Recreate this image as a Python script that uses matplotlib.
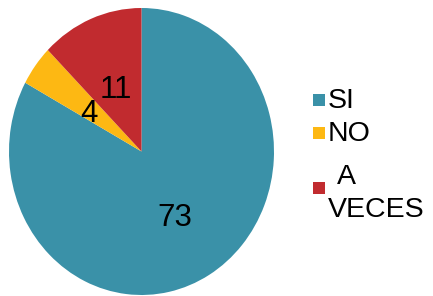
import matplotlib
matplotlib.use("Agg")
import matplotlib.pyplot as plt
from matplotlib.patches import Rectangle

plt.rcParams["font.family"] = ["Liberation Sans", "DejaVu Sans"]

categories = ["SI", "NO", "A VECES"]
values = [73, 4, 11]
colors = ["#3A91A8", "#FDB813", "#C12B2F"]

W, H = 433, 296
fig = plt.figure(figsize=(W / 100, H / 100), dpi=100)

# pie box in pixels (slightly taller than wide, like the original)
left, right, top, bottom = 9, 274, 8, 295
ax = fig.add_axes([left / W, (H - bottom) / H, (right - left) / W, (bottom - top) / H])
wedges, texts, autotexts = ax.pie(
    values,
    colors=colors,
    startangle=90,
    counterclock=False,
    autopct=lambda p: f"{p * sum(values) / 100:.0f}",
    pctdistance=0.5,
    textprops={"fontsize": 22.5, "color": "black"},
)
ax.set_aspect("auto")
ax.set_xlim(-1, 1)
ax.set_ylim(-1, 1)
for t in autotexts:
    x, y = t.get_position()
    t.set_position((x, y - 0.035))

# legend drawn by hand to match the spacing
marker_y = [100, 133, 188]
text_lines = [[(328, 108, "SI")], [(328, 141, "NO")], [(337, 184, "A"), (328, 217, "VECES")]]
for w, my, lines in zip(wedges, marker_y, text_lines):
    fig.add_artist(Rectangle((313 / W, (H - my - 6) / H), 12 / W, 12 / H,
                             transform=fig.transFigure, facecolor=w.get_facecolor(),
                             edgecolor="none"))
    for x, y, s in lines:
        fig.text(x / W, (H - y) / H, s, fontsize=20.5, va="baseline", ha="left")

fig.savefig("out.png", dpi=100)
